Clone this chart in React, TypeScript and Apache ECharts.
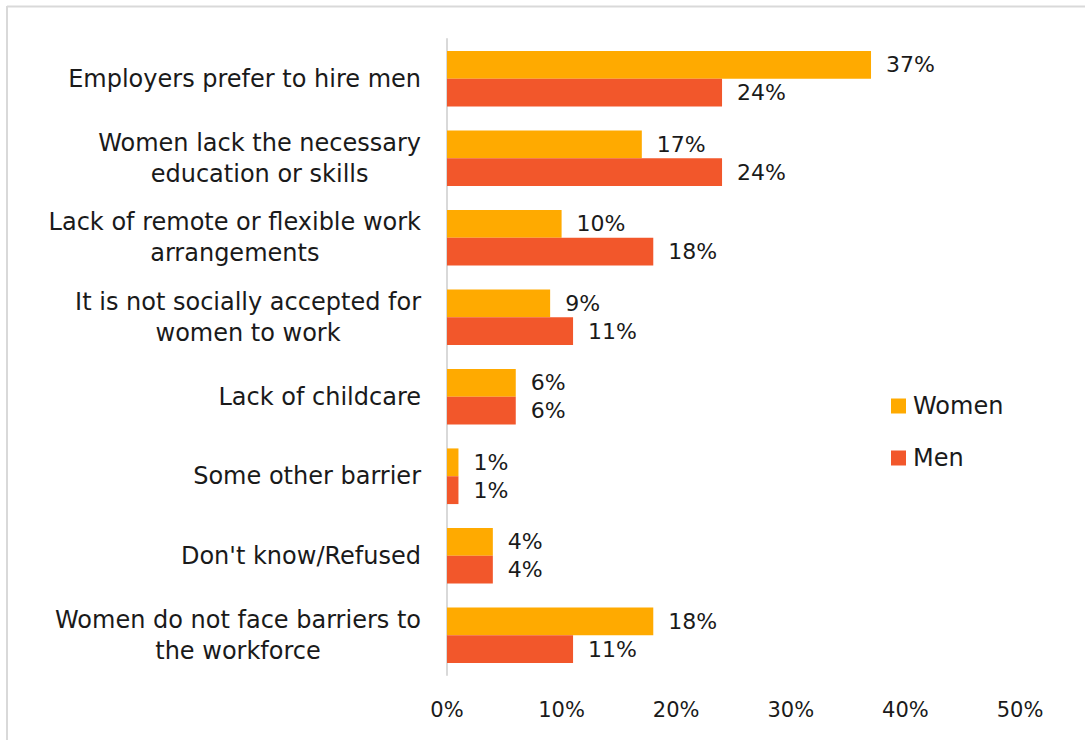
import React, { useEffect, useRef } from "react";
import * as echarts from "echarts";

const categories = [
  "Employers prefer to hire men",
  "Women lack the necessary\neducation or skills",
  "Lack of remote or flexible work\narrangements",
  "It is not socially accepted for\nwomen to work",
  "Lack of childcare",
  "Some other barrier",
  "Don't know/Refused",
  "Women do not face barriers to\nthe workforce",
];
const womenValues = [37, 17, 10, 9, 6, 1, 4, 18];
const menValues = [24, 24, 18, 11, 6, 1, 4, 11];
const xTicks = { min: 0, max: 50, interval: 10 };

const FONT = "DejaVu Sans";

export default function App() {
  const ref = useRef<HTMLDivElement>(null);
  useEffect(() => {
    document.body.style.margin = "0";
    const chart = echarts.init(ref.current!, undefined, { renderer: "svg" });
    const labelStyle = {
      show: true,
      position: "right",
      distance: 15,
      formatter: "{c}%",
      color: "#1a1a1a",
      fontFamily: FONT,
      fontSize: 22,
    };
    chart.setOption({
      animation: false,
      backgroundColor: "#ffffff",
      textStyle: { fontFamily: FONT },
      graphic: [
        {
          type: "line",
          shape: { x1: 7, y1: 6.5, x2: 1085, y2: 6.5 },
          style: { stroke: "#D9D9D9", lineWidth: 2 },
          silent: true,
        },
        {
          type: "line",
          shape: { x1: 7, y1: 6, x2: 7, y2: 740 },
          style: { stroke: "#D9D9D9", lineWidth: 2 },
          silent: true,
        },
      ],
      legend: {
        orient: "vertical",
        left: 886,
        top: 389,
        itemWidth: 15,
        itemHeight: 15,
        itemGap: 28,
        icon: "rect",
        textStyle: { fontFamily: FONT, fontSize: 24, color: "#1a1a1a", padding: [0, 0, 0, 2] },
        data: ["Women", "Men"],
      },
      grid: { left: 447, right: 65, top: 39, bottom: 65, containLabel: false },
      xAxis: {
        type: "value",
        min: xTicks.min,
        max: xTicks.max,
        interval: xTicks.interval,
        axisLine: { show: false },
        axisTick: { show: false },
        splitLine: { show: false },
        axisLabel: {
          formatter: "{value}%",
          fontFamily: FONT,
          fontSize: 21,
          color: "#1a1a1a",
          margin: 24,
        },
      },
      yAxis: {
        type: "category",
        inverse: true,
        data: categories,
        axisTick: { show: false },
        axisLine: { show: true, lineStyle: { color: "#D9D9D9", width: 2 } },
        axisLabel: {
          margin: 26,
          align: "right",
          formatter: (v: string) =>
            v
              .split("\n")
              .map((l) => `{c|${l}}`)
              .join("\n"),
          rich: {
            c: {
              align: "center",
              fontFamily: FONT,
              fontSize: 24,
              lineHeight: 31,
              color: "#1a1a1a",
            },
          },
        },
      },
      series: [
        {
          name: "Women",
          type: "bar",
          data: womenValues,
          itemStyle: { color: "#FFAA00" },
          barGap: "0%",
          barCategoryGap: "30%",
          label: labelStyle,
        },
        {
          name: "Men",
          type: "bar",
          data: menValues,
          itemStyle: { color: "#F2572B" },
          barGap: "0%",
          barCategoryGap: "30%",
          label: labelStyle,
        },
      ],
    });
    return () => chart.dispose();
  }, []);
  return <div ref={ref} style={{ width: 1085, height: 740 }} />;
}
